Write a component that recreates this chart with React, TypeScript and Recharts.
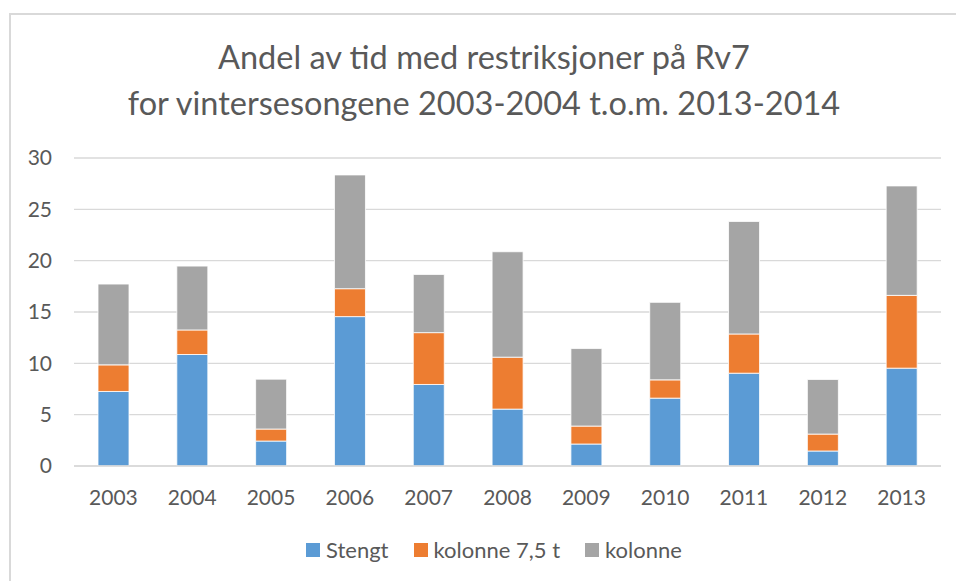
// @ts-ignore
import React from 'react'
// @ts-ignore
import { BarChart, Bar, XAxis, YAxis, CartesianGrid, Legend } from 'recharts'

const years = ['2003', '2004', '2005', '2006', '2007', '2008', '2009', '2010', '2011', '2012', '2013']
const stengt = [7.26, 10.86, 2.43, 14.55, 7.94, 5.54, 2.14, 6.61, 9.04, 1.46, 9.53]
const kolonne75 = [2.59, 2.39, 1.17, 2.72, 5.05, 5.06, 1.75, 1.78, 3.82, 1.65, 7.09]
const kolonne = [7.87, 6.22, 4.86, 11.08, 5.67, 10.27, 7.55, 7.55, 10.96, 5.32, 10.66]
const yTicks = [0, 5, 10, 15, 20, 25, 30]

const series = [
  { key: 'stengt', name: 'Stengt', color: '#5B9BD5' },
  { key: 'kolonne75', name: 'kolonne 7,5 t', color: '#ED7D31' },
  { key: 'kolonne', name: 'kolonne', color: '#A5A5A5' }
]

const data = years.map((y, i) => ({ year: y, stengt: stengt[i], kolonne75: kolonne75[i], kolonne: kolonne[i] }))

const font = 'Lato, "Open Sans", sans-serif'
const textColor = '#595959'

const LegendBox = () => (
  <div style={{ display: 'flex', alignItems: 'center', fontFamily: font, fontSize: 22, color: textColor, lineHeight: '24px' }}>
    {series.map((s, i) => (
      <div key={s.key} style={{ display: 'flex', alignItems: 'center', marginRight: i < series.length - 1 ? 25 : 0 }}>
        <span style={{ width: 14, height: 14, background: s.color, display: 'inline-block', marginRight: 6 }} />
        <span>{s.name}</span>
      </div>
    ))}
  </div>
)

export default function App() {
  return (
    <div style={{ position: 'fixed', left: 0, top: 0, width: 956, height: 581, overflow: 'hidden', background: '#fff' }}>
      {/* ramme: bare venstre og øverste kant synes i bildet */}
      <div style={{ position: 'absolute', left: 9, top: 13, width: 947, height: 568, borderLeft: '2px solid #d9d9d9', borderTop: '2px solid #d9d9d9', boxSizing: 'border-box' }} />
      <div style={{ position: 'absolute', left: 8, top: 34, width: 952, textAlign: 'center', fontFamily: font, fontSize: 32.5, color: textColor, lineHeight: '46px' }}>
        <div>Andel av tid med restriksjoner på Rv7</div>
        <div>for vintersesongene 2003-2004 t.o.m. 2013-2014</div>
      </div>
      <div style={{ position: 'absolute', left: 8, top: 8 }}>
        <BarChart width={948} height={573} data={data} margin={{ top: 150, right: 15, bottom: 75, left: 6 }}>
          <CartesianGrid vertical={false} stroke="#d9d9d9" strokeWidth={1.3} />
          <XAxis
            dataKey="year"
            height={40}
            tickSize={0}
            tickMargin={24}
            axisLine={{ stroke: '#d9d9d9', strokeWidth: 1.3 }}
            tick={{ fontFamily: font, fontSize: 21, fill: textColor }}
          />
          <YAxis
            width={60}
            domain={[0, 30]}
            ticks={yTicks}
            tickSize={0}
            tickMargin={22}
            axisLine={false}
            tick={{ fontFamily: font, fontSize: 21, fill: textColor }}
          />
          <Legend
            verticalAlign="middle"
            align="center"
            content={<LegendBox />}
            wrapperStyle={{ top: 530, left: 298, width: 'auto' }}
          />
          {series.map(s => (
            <Bar key={s.key} dataKey={s.key} name={s.name} stackId="a" fill={s.color} stroke="#ffffff" strokeWidth={0.8} barSize={31} isAnimationActive={false} />
          ))}
        </BarChart>
      </div>
    </div>
  )
}
